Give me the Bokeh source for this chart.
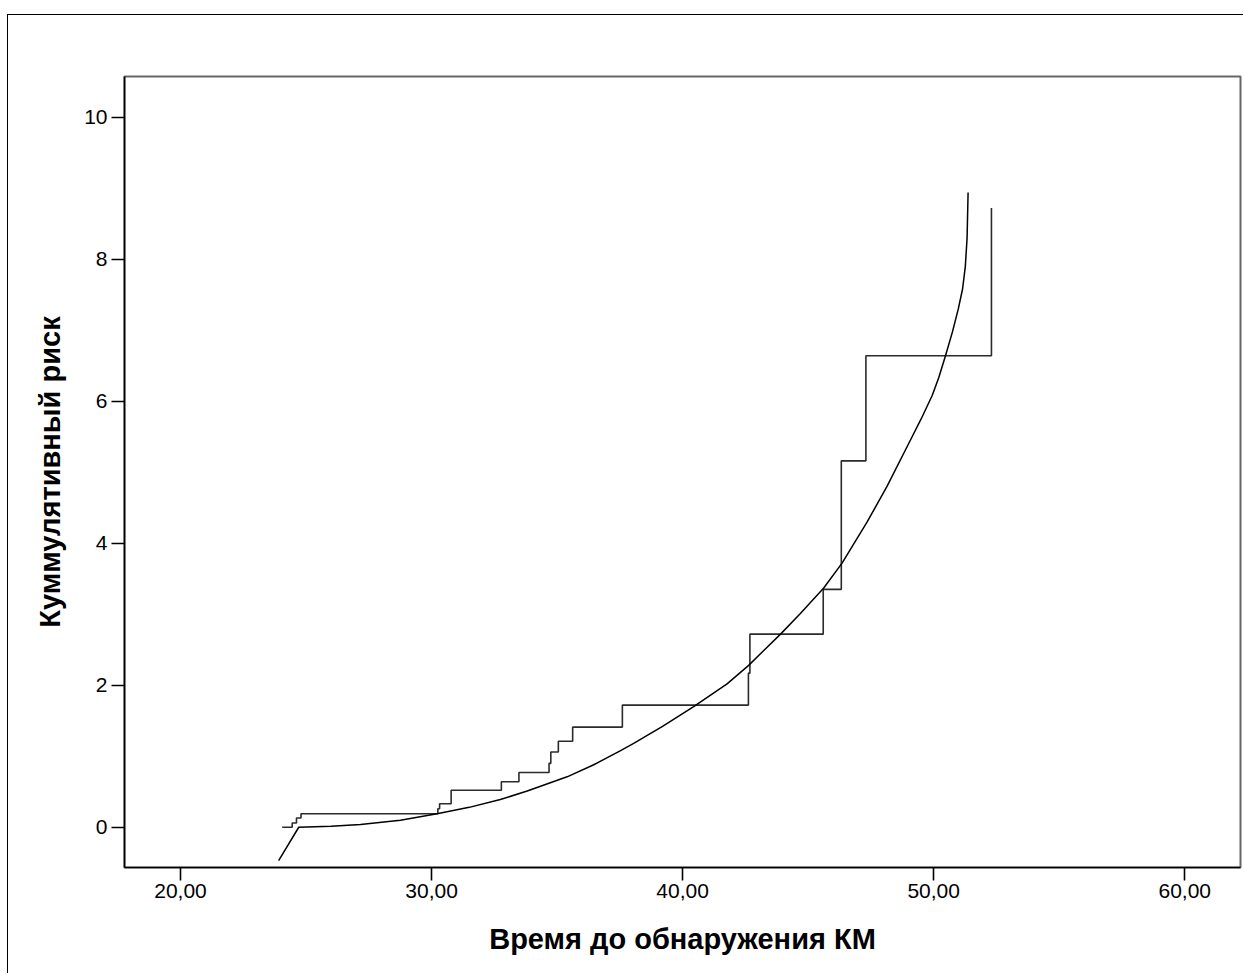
from bokeh.plotting import figure
from bokeh.models import Range1d, FixedTicker
from bokeh.embed import file_html
from bokeh.resources import INLINE

# Kaplan-Meier cumulative hazard steps (time, cumulative hazard after event)
step_time = [24.05, 24.45, 24.62, 24.80, 30.25, 30.32, 30.78, 32.78, 33.48,
             34.68, 34.75, 35.05, 35.62, 37.60, 42.62, 42.68, 45.60, 46.32,
             47.30, 52.30]
step_hazard = [0.00, 0.06, 0.13, 0.19, 0.26, 0.33, 0.52, 0.64, 0.77,
               0.90, 1.06, 1.21, 1.41, 1.72, 2.17, 2.72, 3.35, 5.16,
               6.64, 8.72]

# Fitted cumulative hazard curve
curve_time = [23.91, 24.71, 26.00, 27.17, 28.76, 30.22, 31.50, 32.74, 33.81,
              35.40, 36.46, 37.53, 38.05, 39.20, 40.44, 41.77, 42.63, 43.90,
              44.69, 45.62, 46.35, 47.35, 48.14, 49.07, 49.50, 49.94, 50.20,
              50.47, 50.75, 50.98, 51.15, 51.26, 51.33, 51.37]
curve_hazard = [-0.47, 0.00, 0.015, 0.04, 0.10, 0.19, 0.28, 0.39, 0.51,
                0.71, 0.88, 1.08, 1.18, 1.42, 1.70, 2.02, 2.28, 2.72,
                3.01, 3.37, 3.72, 4.30, 4.80, 5.45, 5.75, 6.08, 6.33,
                6.64, 6.98, 7.30, 7.58, 7.90, 8.30, 8.94]

x_ticks = [20, 30, 40, 50, 60]
x_tick_labels = ["20,00", "30,00", "40,00", "50,00", "60,00"]
y_ticks = [0, 2, 4, 6, 8, 10]

x_title = "Время до обнаружения КМ"
y_title = "Куммулятивный риск"

FONT = "Liberation Sans"

p = figure(width=1236, height=959, output_backend="svg", toolbar_location=None,
           x_range=Range1d(17.77, 62.22), y_range=Range1d(-0.567, 10.573),
           min_border_left=116, min_border_right=4, min_border_top=61,
           min_border_bottom=107)
p.margin = (14, 0, 0, 7)
p.styles = {"border-left": "1px solid black", "border-top": "1px solid black"}

p.background_fill_color = "white"
p.border_fill_color = "white"
p.outline_line_color = "#666666"
p.outline_line_width = 2
p.xgrid.visible = False
p.ygrid.visible = False

p.step(step_time, step_hazard, mode="after", line_color="#2b2b2b", line_width=1.6)
p.line(curve_time, curve_hazard, line_color="black", line_width=1.5,
       line_join="round")

for ax in (p.xaxis[0], p.yaxis[0]):
    ax.axis_line_color = "black"
    ax.axis_line_width = 1.6
    ax.major_tick_line_color = "black"
    ax.major_tick_line_width = 1.6
    ax.major_tick_out = 13
    ax.major_tick_in = 0
    ax.minor_tick_line_color = None
    ax.major_label_text_font = FONT
    ax.major_label_text_font_size = "21px"
    ax.major_label_text_color = "black"
    ax.axis_label_text_font = FONT
    ax.axis_label_text_font_size = "29px"
    ax.axis_label_text_font_style = "bold"
    ax.axis_label_text_color = "black"

p.xaxis[0].ticker = FixedTicker(ticks=x_ticks)
p.xaxis[0].major_label_overrides = {t: s for t, s in zip(x_ticks, x_tick_labels)}
p.xaxis[0].major_label_standoff = 3
p.xaxis[0].axis_label = x_title
p.xaxis[0].axis_label_standoff = 22

p.yaxis[0].ticker = FixedTicker(ticks=y_ticks)
p.yaxis[0].major_label_standoff = 4
p.yaxis[0].axis_label = y_title
p.yaxis[0].axis_label_standoff = 15

open("out.html", "w").write(file_html(p, INLINE))
